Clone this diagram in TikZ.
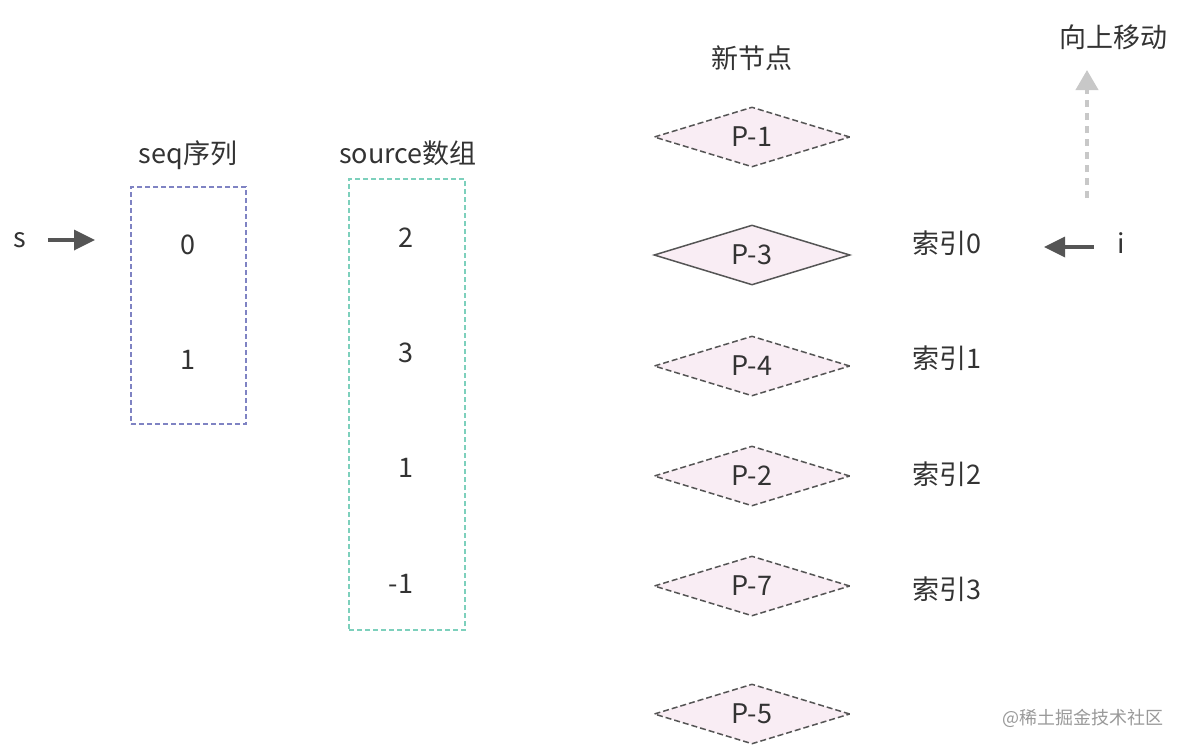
\documentclass[tikz,border=0pt]{standalone}
\usepackage{fontspec}
\setmainfont{Noto Sans CJK SC}
\usetikzlibrary{shapes.geometric,arrows.meta}
\definecolor{seqblue}{HTML}{7F83C3}
\definecolor{srcgreen}{HTML}{7DD0BC}
\definecolor{nodepink}{HTML}{F9EDF4}
\definecolor{arrowgray}{HTML}{555555}
\definecolor{movegray}{HTML}{C8C8C8}
\tikzset{
  txt/.style={font=\fontsize{27}{31}\selectfont, text=black!80},
  pnode/.style={diamond, draw=arrowgray, fill=nodepink, line width=1.5pt,
    dash pattern=on 6pt off 3pt, minimum width=196pt, minimum height=60pt,
    inner sep=0pt, aspect=3.2, txt},
  databox/.style={draw=#1, line width=1.3pt, dash pattern=on 5pt off 3pt,
    inner sep=0pt},
  ptr/.style={-{Triangle[length=21pt,width=20pt]}, line width=3.5pt, arrowgray},
}
\begin{document}
\begin{tikzpicture}[x=1pt,y=-1pt]
   \useasboundingbox (0,0) rectangle (1183,750);

   % seq序列
   \node[txt] (seqtitle) at (188,155) {seq序列};
   \node[databox=seqblue, minimum width=115pt, minimum height=237pt] (seq) at (188.5,305.5) {};
   \node[txt] (seq0) at (188,245) {0};
   \node[txt] (seq1) at (188,360) {1};
   \node[txt] (s) at (20,240) {s};
   \coordinate (sTip) at (95,240);
   \draw[ptr, shorten <=18pt] (s.east |- sTip) -- (sTip);

   % source数组
   \node[txt] (srctitle) at (408,153) {source数组};
   \node[databox=srcgreen, minimum width=116pt, minimum height=451pt] (src) at (407,404.5) {};
   \node[txt] (src0) at (406,238) {2};
   \node[txt] (src1) at (406,353) {3};
   \node[txt] (src2) at (406,468) {1};
   \node[txt] (src3) at (401,584) {-1};

   % 新节点
   \node[txt] (newtitle) at (752,58) {新节点};
   \node[pnode] (p1) at (752,137) {P-1};
   \node[pnode, solid] (p3) at (752,255) {P-3};
   \node[pnode] (p4) at (752,366) {P-4};
   \node[pnode] (p2) at (752,476) {P-2};
   \node[pnode] (p7) at (752,586) {P-7};
   \node[pnode] (p5) at (752,714) {P-5};

   \node[txt] (idx0) at (947,243) {索引0};
   \node[txt] (idx1) at (947,358) {索引1};
   \node[txt] (idx2) at (947,474) {索引2};
   \node[txt] (idx3) at (947,589) {索引3};

   \node[txt] (i) at (1121,243) {i};
   \coordinate (iTip) at (1044,247);
   \draw[ptr, shorten <=20pt] (i.west |- iTip) -- (iTip);

   \node[txt] (uptitle) at (1113,37) {向上移动};
   \coordinate (upTail) at (1087,198);
   \coordinate (upTip) at (1087,70);
   \draw[-{Triangle[length=20pt,width=22pt]}, line width=4pt, movegray,
     dash pattern=on 7pt off 6pt] (upTail) -- (upTip);

   \node[font=\fontsize{18}{21}\selectfont, text=black!40] (mark) at (1083,718) {@稀土掘金技术社区};
 \end{tikzpicture}
\end{document}
